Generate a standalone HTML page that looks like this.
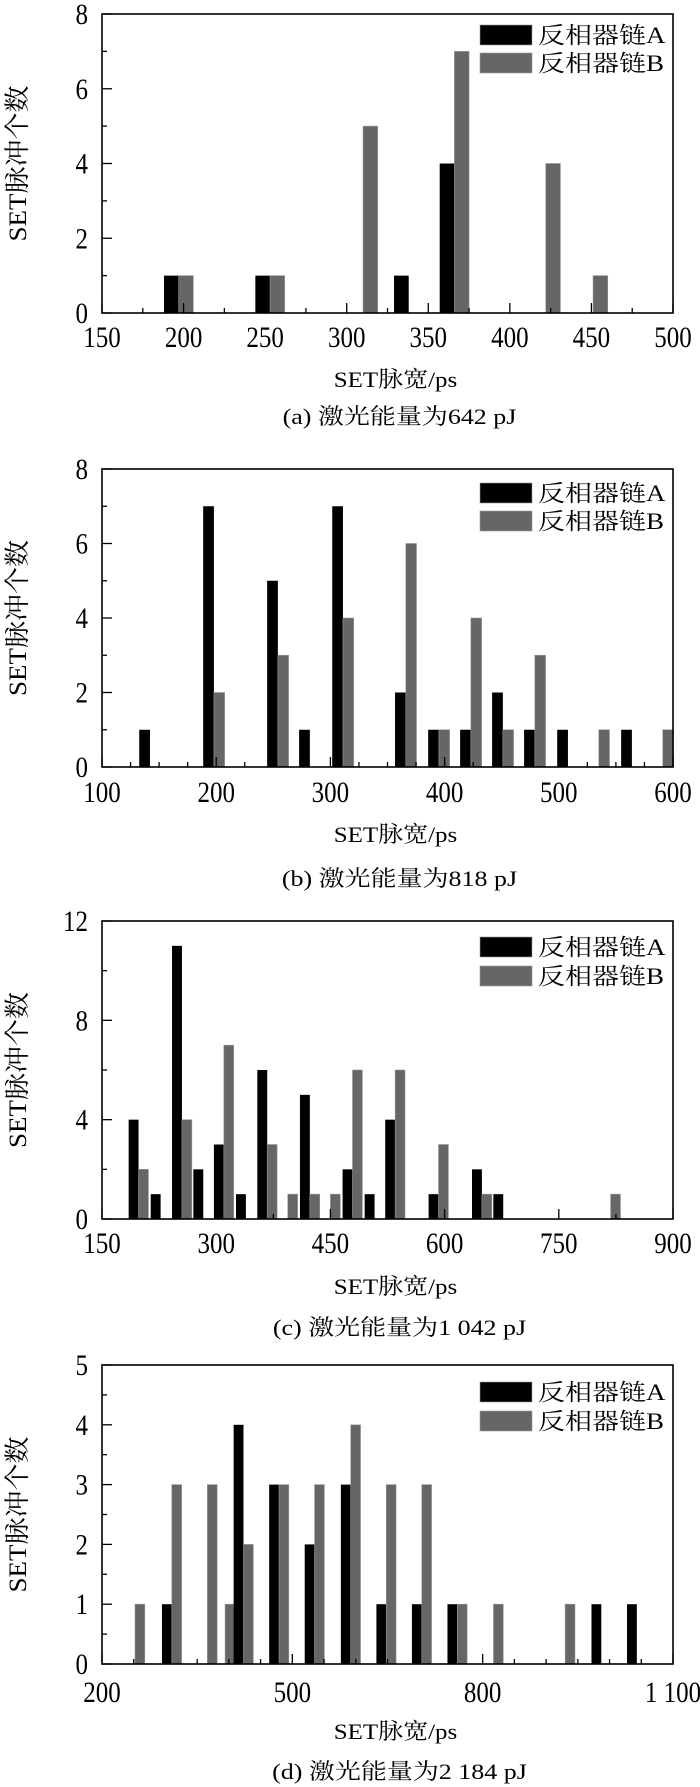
<!DOCTYPE html>
<html><head><meta charset="utf-8"><style>
html,body{margin:0;padding:0;background:#fff;}
svg{display:block;}
text{font-family:"Liberation Serif","Noto Serif CJK SC","Noto Sans CJK SC",serif;fill:#000;}
</style></head><body>
<svg id="fig" width="700" height="1787" viewBox="0 0 700 1787" xmlns="http://www.w3.org/2000/svg"></svg>
<script>
// ---- chart (a) data ----
const binsA = [197,253,310,338,366,422,451];
const seriesA_A = [1,1,0,1,4,0,0];
const seriesA_B = [1,1,5,0,7,4,1];
const xTicksA = [150,200,250,300,350,400,450,500];
const yTicksA = [0,2,4,6,8];
// ---- chart (b) data ----
const binsB = [142,198,254,282,311,366,395,423,451,479,508,535,564,591];
const seriesB_A = [1,7,5,1,7,2,1,1,2,1,1,0,1,0];
const seriesB_B = [0,2,3,0,4,6,1,4,1,3,0,1,0,1];
const xTicksB = [100,200,300,400,500,600];
const yTicksB = [0,2,4,6,8];
// ---- chart (c) data ----
const binsC = [198,227,255,283,310,339,367,394,423,450,479,508,535,592,649,677,818];
const seriesC_A = [4,1,11,2,3,1,6,0,5,0,2,1,4,1,2,1,0];
const seriesC_B = [2,0,4,0,7,0,3,1,1,1,6,0,6,3,1,0,1];
const xTicksC = [150,300,450,600,750,900];
const yTicksC = [0,4,8,12];
// ---- chart (d) data ----
const binsD = [252,310,366,394,423,479,535,592,648,704,760,817,930,987,1043];
const seriesD_A = [0,1,0,0,4,3,2,3,1,1,1,0,0,1,1];
const seriesD_B = [1,3,3,1,2,3,3,4,3,3,1,1,1,0,0];
const xTicksD = [200,500,800,1100];
const xTickLabelsD = ["200","500","800","1 100"];
const yTicksD = [0,1,2,3,4,5];

const charts = [
 {id:'a',top:14,bottom:313,xmin:150,xmax:500,ymax:8,bins:binsA,A:seriesA_A,B:seriesA_B,xt:xTicksA,xl:xTicksA.map(String),xminor:25,yt:yTicksA,yminor:1,bw:9,
  lab:337,title:378,cap:415,capText:'(a) 激光能量为642 pJ',legA:25,legB:53},
 {id:'b',top:469,bottom:767,xmin:100,xmax:600,ymax:8,bins:binsB,A:seriesB_A,B:seriesB_B,xt:xTicksB,xl:xTicksB.map(String),xminor:25,yt:yTicksB,yminor:1,bw:9.4,
  lab:792,title:833,cap:877,capText:'(b) 激光能量为818 pJ',legA:483,legB:511},
 {id:'c',top:921,bottom:1219,xmin:150,xmax:900,ymax:12,bins:binsC,A:seriesC_A,B:seriesC_B,xt:xTicksC,xl:xTicksC.map(String),xminor:75,yt:yTicksC,yminor:2,bw:13,
  lab:1243,title:1285,cap:1326,capText:'(c) 激光能量为1 042 pJ',legA:937,legB:966},
 {id:'d',top:1365,bottom:1664,xmin:200,xmax:1100,ymax:5,bins:binsD,A:seriesD_A,B:seriesD_B,xt:xTicksD,xl:xTickLabelsD,xminor:50,yt:yTicksD,yminor:0.5,bw:15.5,
  lab:1692,title:1730,cap:1770,capText:'(d) 激光能量为2 184 pJ',legA:1382,legB:1411}
];
const NS='http://www.w3.org/2000/svg';
const svg=document.getElementById('fig');
function mk(tag,attrs,parent){const e=document.createElementNS(NS,tag);for(const k in attrs)e.setAttribute(k,attrs[k]);(parent||svg).appendChild(e);return e;}
const L=102,R=673;
charts.forEach(c=>{
  const g=mk('g',{});
  
  
  const xs=v=>L+(v-c.xmin)/(c.xmax-c.xmin)*(R-L);
  const ys=v=>c.bottom-v/c.ymax*(c.bottom-c.top);
  c.bins.forEach((b,i)=>{
    if(c.A[i]>0){const r=mk('rect',{x:xs(b-c.bw),y:ys(c.A[i]),width:xs(b)-xs(b-c.bw),height:c.bottom-ys(c.A[i]),fill:'#000'},g);
      
      }
    if(c.B[i]>0){const r=mk('rect',{x:xs(b),y:ys(c.B[i]),width:xs(b+c.bw)-xs(b),height:c.bottom-ys(c.B[i]),fill:'#666',stroke:'#999','stroke-width':0.6},g);
      
      }
  });
  for(let v=c.xmin;v<=c.xmax+1e-6;v+=c.xminor){
    const maj=c.xt.some(t=>Math.abs(t-v)<1e-6);
    mk('line',{x1:xs(v),x2:xs(v),y1:c.bottom,y2:c.bottom-(maj?10:5),stroke:'#000','stroke-width':1.3},g);
  }
  for(let v=0;v<=c.ymax+1e-6;v+=c.yminor){
    const maj=c.yt.some(t=>Math.abs(t-v)<1e-6);
    mk('line',{x1:L,x2:L+(maj?10:5),y1:ys(v),y2:ys(v),stroke:'#000','stroke-width':1.3},g);
  }
  const f=mk('rect',{x:L,y:c.top,width:R-L,height:c.bottom-c.top,fill:'none',stroke:'#000','stroke-width':1.6},g);
  
  
  c.xt.forEach((t,i)=>{
    const tx=mk('text',{transform:`translate(${xs(t)},${c.lab+10}) scale(1,1.18)`,'text-anchor':'middle','font-size':25},g);
    tx.textContent=c.xl[i];
    
    
  });
  c.yt.forEach(t=>{
    const tx=mk('text',{transform:`translate(${L-14},${ys(t)+10}) scale(1,1.18)`,'text-anchor':'end','font-size':25},g);
    tx.textContent=String(t);
    
    
  });
  const xt=mk('text',{transform:`translate(${(L+R)/2+8},${c.title+9}) scale(1,0.9)`,'text-anchor':'middle','font-size':25},g);
  xt.textContent='SET脉宽/ps';
  
  
  const yt=mk('text',{transform:`translate(${26},${(c.top+c.bottom)/2}) rotate(-90) scale(1,0.95)`,'text-anchor':'middle','font-size':27},g);
  yt.textContent='SET脉冲个数';
  
  
  const cp=mk('text',{transform:`translate(${(L+R)/2+12},${c.cap+9}) scale(1,0.85)`,'text-anchor':'middle','font-size':26},g);
  cp.textContent=c.capText;
  
  
  [['A',c.legA,'#000'],['B',c.legB,'#666']].forEach(([s,y,col])=>{
    const r=mk('rect',{x:480,y:y,width:52,height:20,fill:col,stroke:'#999','stroke-width':0.6},g);
    
    
    const t=mk('text',{transform:`translate(538,${y+18}) scale(1,0.85)`,'font-size':27},g);
    t.textContent='反相器链'+s;
    
    
  });
});
</script>
</body></html>
